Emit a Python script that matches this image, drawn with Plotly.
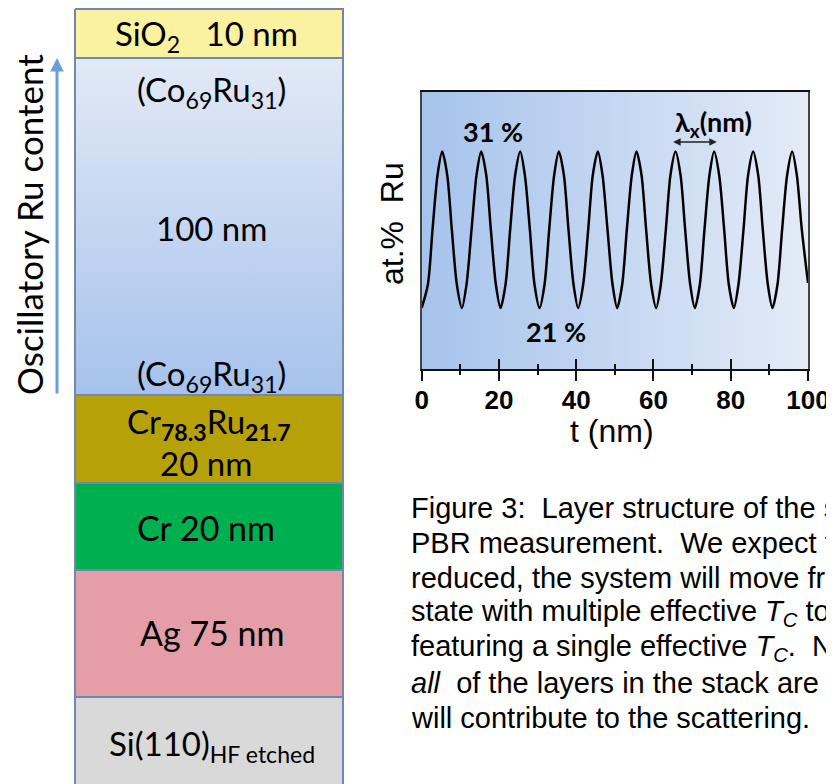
import plotly.graph_objects as go

# ---------------- data ----------------
t_nm = [0.0, 1.6, 2.8, 4.1, 5.3, 6.6, 7.8, 9.1, 10.4, 11.6, 12.9, 14.2, 15.4, 16.7, 17.9,
        19.2, 20.4, 21.7, 22.9, 24.2, 25.5, 26.7, 28.0, 29.2, 30.5, 31.8, 33.0, 34.3,
        35.5, 36.8, 38.0, 39.3, 40.5, 41.8, 43.1, 44.3, 45.6, 46.8, 48.1, 49.4, 50.6,
        51.9, 53.1, 54.4, 55.6, 56.9, 58.1, 59.4, 60.7, 61.9, 63.2, 64.4, 65.7, 67.0,
        68.2, 69.5, 70.7, 72.0, 73.2, 74.5, 75.7, 77.0, 78.3, 79.5, 80.8, 82.0, 83.3,
        84.5, 85.8, 87.1, 88.3, 89.6, 90.8, 92.1, 93.3, 94.6, 95.9, 97.1, 98.4, 100.0]
ru_at = [21.0, 22.5, 26, 29.5, 31, 29.5, 26, 22.5, 21, 22.5, 26, 29.5, 31, 29.5, 26,
         22.5, 21, 22.5, 26, 29.5, 31, 29.5, 26, 22.5, 21, 22.5, 26, 29.5,
         31, 29.5, 26, 22.5, 21, 22.5, 26, 29.5, 31, 29.5, 26, 22.5, 21,
         22.5, 26, 29.5, 31, 29.5, 26, 22.5, 21, 22.5, 26, 29.5, 31, 29.5,
         26, 22.5, 21, 22.5, 26, 29.5, 31, 29.5, 26, 22.5, 21, 22.5, 26,
         29.5, 31, 29.5, 26, 22.5, 21, 22.5, 26, 29.5, 31, 29.5, 26, 22.6]
x_ticks = [0, 20, 40, 60, 80, 100]
x_tick_text = ["0", "20", "40", "60", "80", "100"]

layer_names = ["SiO2", "CoRu", "CrRu", "Cr", "Ag", "Si"]
layer_heights = [49, 337, 88, 87, 127, 120]
layer_colors = ["#faf1a1", "gradient", "#b7a109", "#00b050", "#e59ea7", "#d9d9d9"]

caption_lines = [
    "Figure 3:\u00a0 Layer structure of the sample used for the",
    "PBR measurement.\u00a0 We expect that as the",
    "reduced, the system will move from a",
    "state with multiple effective <i>T<sub>C</sub></i> to a state",
    "featuring a single effective <i>T<sub>C</sub></i>.\u00a0 Note that",
    "<i>all</i>\u00a0 of the layers in the stack are included and",
    "will contribute to the scattering.",
]

W, H = 834, 784
OFF = 8  # page body margin seen in the screenshot


def PX(x):
    return (x - OFF) / W


def PY(y):
    return 1 - (y - OFF) / H


fig = go.Figure()

# ---------------- layer stack ----------------
border = "#6f88ac"
tops = []
acc = 0
for h in layer_heights:
    tops.append(acc)
    acc += h
for name, top, h, col in zip(layer_names, tops, layer_heights, layer_colors):
    xs = [0, 1, 1, 0, 0]
    ys = [top, top, top + h, top + h, top]
    kw = dict(x=xs, y=ys, mode="lines", fill="toself",
              line=dict(color=border, width=2), xaxis="x2", yaxis="y2",
              hoverinfo="skip", showlegend=False)
    if col == "gradient":
        kw["fillgradient"] = dict(type="vertical", start=top, stop=top + h,
                                  colorscale=[[0, "#e2e9f6"], [1, "#a6c2ec"]])
    else:
        kw["fillcolor"] = col
    fig.add_trace(go.Scatter(**kw))

gs = "Lato"


def layer_label(text, y, size=33, x=0.5):
    fig.add_annotation(text=text, x=x, y=y, xref="x2", yref="y2", showarrow=False,
                       xanchor="center", yanchor="middle",
                       font=dict(family=gs, size=size, color="black"))


layer_label("SiO<sub>2</sub>\u00a0\u00a0\u00a010 nm", tops[0] + 26, x=0.49)
layer_label("(Co<sub>69</sub>Ru<sub>31</sub>)", tops[1] + 33, x=0.51)
layer_label("100 nm", tops[1] + 170, x=0.51)
layer_label("(Co<sub>69</sub>Ru<sub>31</sub>)", tops[1] + 317, x=0.51)
layer_label("Cr<sub><b>78.3</b></sub>Ru<sub><b>21.7</b></sub>", tops[2] + 28, x=0.5)
layer_label("20 nm", tops[2] + 68, x=0.49)
layer_label("Cr 20 nm", tops[3] + 44, x=0.49, size=34)
layer_label("Ag 75 nm", tops[4] + 62, x=0.51, size=34)
layer_label("Si(110)<sub>HF etched</sub>", tops[5] + 48, x=0.51)

# arrow + rotated label on the left
fig.add_annotation(x=PX(57), y=PY(58), xref="paper", yref="paper",
                   ax=0, ay=337, axref="pixel", ayref="pixel", text="",
                   showarrow=True, arrowhead=2, arrowsize=0.9, arrowwidth=3,
                   arrowcolor="#6a9ed9")
fig.add_annotation(text="Oscillatory Ru content", x=PX(29), y=PY(225),
                   xref="paper", yref="paper", textangle=-90, showarrow=False,
                   xanchor="center", yanchor="middle",
                   font=dict(family=gs, size=35, color="black"))

# ---------------- inset: at.% Ru vs t ----------------
yr = [17.1, 34.8]
fig.add_trace(go.Scatter(x=[0, 100, 100, 0, 0], y=[yr[0], yr[0], yr[1], yr[1], yr[0]],
                         mode="lines", fill="toself", line=dict(width=0),
                         fillgradient=dict(type="horizontal", start=0, stop=100,
                                           colorscale=[[0, "#a6c3ec"], [1, "#e4ebf7"]]),
                         hoverinfo="skip", showlegend=False))
fig.add_trace(go.Scatter(x=t_nm, y=ru_at, mode="lines",
                         line=dict(color="black", width=2.5, shape="spline", smoothing=0.8),
                         showlegend=False, hoverinfo="skip"))
fig.add_trace(go.Scatter(x=[0, 100], y=[yr[0], yr[0]], mode="lines", xaxis="x3",
                         line=dict(width=0), showlegend=False, hoverinfo="skip"))

arial = "Liberation Sans, Arial"
fig.add_annotation(text="<b>31 %</b>", x=18.5, y=32.3, showarrow=False,
                   font=dict(family=gs, size=27, color="black"))
fig.add_annotation(text="<b>21 %</b>", x=34.8, y=19.5, showarrow=False,
                   font=dict(family=gs, size=27, color="black"))
fig.add_annotation(text="<b>\u03bb<sub>x</sub>(nm)</b>", x=75.5, y=32.8, showarrow=False,
                   font=dict(family=gs, size=27, color="black"))
fig.add_annotation(x=76.4, y=31.6, ax=64.7, ay=31.6, axref="x", ayref="y",
                   xref="x", yref="y", text="", showarrow=True, arrowside="end+start",
                   arrowhead=2, arrowsize=1, arrowwidth=1.5, arrowcolor="#222")
fig.add_annotation(text="at.%\u00a0\u00a0Ru", x=PX(392), y=PY(224), xref="paper",
                   yref="paper", textangle=-90, showarrow=False,
                   xanchor="center", yanchor="middle",
                   font=dict(family=arial, size=32, color="black"))
fig.add_annotation(text="t (nm)", x=PX(612), y=PY(431), xref="paper", yref="paper",
                   xanchor="center", yanchor="middle",
                   showarrow=False, font=dict(family=arial, size=32, color="black"))

# caption
for i, line in enumerate(caption_lines):
    fig.add_annotation(text=line, x=PX(409), y=PY(508 + 35 * i), xref="paper",
                       yref="paper", xanchor="left", yanchor="middle", showarrow=False,
                       font=dict(family=arial, size=29, color="black"))

xdom = [PX(421.7), PX(808)]
fig.update_layout(
    width=W, height=H, margin=dict(l=0, r=0, t=0, b=0, autoexpand=False),
    paper_bgcolor="white", plot_bgcolor="rgba(0,0,0,0)",
    xaxis=dict(domain=xdom, range=[0, 100], anchor="y", showgrid=False, zeroline=False,
               showline=True, linecolor="#111", linewidth=2, mirror=True,
               tickvals=x_ticks, showticklabels=False, ticks="outside", ticklen=10,
               tickwidth=2, tickcolor="#111",
               minor=dict(dtick=10, ticks="outside", ticklen=4, tickwidth=2, tickcolor="#111")),
    xaxis3=dict(domain=xdom, range=[0, 100], anchor="y", overlaying="x", showgrid=False,
                zeroline=False, showline=False, tickvals=x_ticks, ticktext=x_tick_text,
                ticks="inside", ticklen=10, tickwidth=2, tickcolor="#111",
                ticklabelstandoff=13,
                tickfont=dict(family=arial, size=26, color="black", weight="bold"),
                minor=dict(dtick=10, ticks="inside", ticklen=5, tickwidth=2, tickcolor="#111")),
    yaxis=dict(domain=[PY(369), PY(92)], range=yr, anchor="x", showgrid=False,
               zeroline=False, showline=True, linecolor="#444", linewidth=2, mirror=True,
               ticks="", showticklabels=False),
    xaxis2=dict(domain=[PX(73), PX(345)], range=[-2 / 268, 1 + 2 / 268], anchor="y2",
                visible=False),
    yaxis2=dict(domain=[0, 1], range=[783, -1], anchor="x2", visible=False),
)

fig.write_html("out.html")
